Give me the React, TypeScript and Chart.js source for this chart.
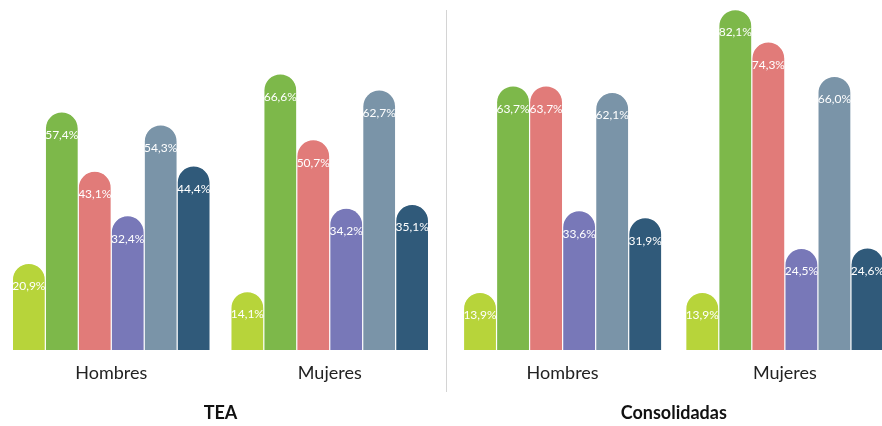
import React, { useEffect, useRef } from "react";
import { Chart, registerables } from "chart.js";

Chart.register(...registerables);

const groups = ["Hombres", "Mujeres"];
const seriesNames = ["Serie 1", "Serie 2", "Serie 3", "Serie 4", "Serie 5", "Serie 6"];
const seriesColors = ["#b7d43a", "#7db84a", "#e17b79", "#7878b8", "#7a94a8", "#305a7a"];

// values per series: [Hombres, Mujeres]
const teaValues = [
  [20.9, 14.1],
  [57.4, 66.6],
  [43.1, 50.7],
  [32.4, 34.2],
  [54.3, 62.7],
  [44.4, 35.1],
];
const consolidadasValues = [
  [13.9, 13.9],
  [63.7, 82.1],
  [63.7, 74.3],
  [33.6, 24.5],
  [62.1, 66.0],
  [31.9, 24.6],
];

const panelTitles = ["TEA", "Consolidadas"];
const yMax = 84.4;

const valueLabels = {
  id: "valueLabels",
  afterDatasetsDraw(chart: any) {
    const ctx = chart.ctx;
    ctx.save();
    ctx.fillStyle = "#ffffff";
    ctx.font = "12px Lato";
    ctx.textAlign = "center";
    ctx.textBaseline = "middle";
    chart.data.datasets.forEach((ds: any, i: number) => {
      const meta = chart.getDatasetMeta(i);
      meta.data.forEach((el: any, j: number) => {
        const v = ds.data[j] as number;
        const txt = v.toFixed(1).replace(".", ",") + "%";
        ctx.fillText(txt, el.x, el.y + 23);
      });
    });
    ctx.restore();
  },
};

function makeConfig(values: number[][], title: string, pad: any, catPct: number) {
  return {
    type: "bar" as const,
    data: {
      labels: groups,
      datasets: values.map((vals, i) => ({
        label: seriesNames[i],
        data: vals,
        backgroundColor: seriesColors[i],
        borderColor: "rgba(255,255,255,0.5)",
        borderWidth: 0.6,
        borderRadius: 100,
        borderSkipped: "start",
        barPercentage: 1,
        categoryPercentage: catPct,
      })),
    },
    options: {
      responsive: false,
      animation: false,
      layout: { padding: pad },
      plugins: {
        legend: { display: false },
        tooltip: { enabled: false },
        title: {
          display: true,
          text: title,
          position: "bottom",
          color: "#111111",
          font: { family: "Lato", size: 18, weight: "bold" },
          padding: { top: 6.6, bottom: 2.2 },
        },
      },
      scales: {
        x: {
          grid: { display: false, drawTicks: false },
          border: { display: false },
          ticks: {
            color: "#222222",
            font: { family: "Lato", size: 18 },
            padding: 12,
          },
        },
        y: {
          display: false,
          min: 0,
          max: yMax,
        },
      },
    },
    plugins: [valueLabels],
  };
}

export default function App() {
  const leftRef = useRef<HTMLCanvasElement>(null);
  const rightRef = useRef<HTMLCanvasElement>(null);

  useEffect(() => {
    const c1 = new Chart(
      leftRef.current as HTMLCanvasElement,
      makeConfig(teaValues, panelTitles[0], { left: 2, right: 7, top: 0, bottom: 0 }, 0.905) as any
    );
    const c2 = new Chart(
      rightRef.current as HTMLCanvasElement,
      makeConfig(consolidadasValues, panelTitles[1], { left: 5.5, right: 0, top: 0, bottom: 0 }, 0.892) as any
    );
    return () => {
      c1.destroy();
      c2.destroy();
    };
  }, []);

  return (
    <div
      style={{
        position: "fixed",
        left: 0,
        top: 0,
        width: 882,
        height: 426,
        overflow: "hidden",
        background: "#ffffff",
      }}
    >
      <canvas
        ref={leftRef}
        width={446}
        height={426}
        style={{ position: "absolute", left: 0, top: 0, display: "block" }}
      />
      <div
        style={{
          position: "absolute",
          left: 446,
          top: 10,
          width: 1,
          height: 382,
          background: "#d4d4d4",
        }}
      />
      <canvas
        ref={rightRef}
        width={450}
        height={426}
        style={{ position: "absolute", left: 446, top: 0, display: "block" }}
      />
    </div>
  );
}
